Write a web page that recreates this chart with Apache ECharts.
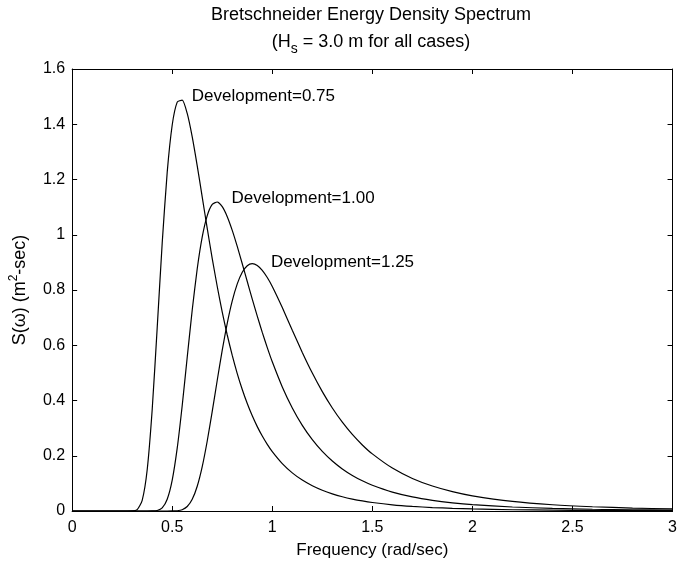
<!DOCTYPE html>
<html>
<head>
<meta charset="utf-8">
<script src="https://cdn.jsdelivr.net/npm/echarts@6/dist/echarts.min.js"></script>
<style>
html,body{margin:0;padding:0;background:#ffffff;}
#chart{width:680px;height:567px;}
</style>
</head>
<body>
<div id="chart"></div>
<script>
// ---- data ----
const frequency = [0, 0.1, 0.2, 0.25, 0.275,
  0.30, 0.325, 0.35, 0.375, 0.40, 0.425, 0.45, 0.475, 0.50, 0.525, 0.55, 0.575, 0.60, 0.625, 0.65, 0.675,
  0.70, 0.725, 0.75, 0.775, 0.80, 0.825, 0.85, 0.875, 0.90, 0.925, 0.95, 0.975, 1.00,
  1.05, 1.10, 1.15, 1.20, 1.25, 1.30, 1.35, 1.40, 1.45, 1.50,
  1.6, 1.7, 1.8, 1.9, 2.0, 2.2, 2.4, 2.6, 2.8, 3.0];

const dev075 = [0, 0, 0, 0, 0,
  0.0002, 0.0048, 0.0382, 0.1493, 0.3673, 0.6633, 0.9701, 1.2260, 1.3973, 1.4800, 1.4873, 1.4391, 1.3543, 1.2495, 1.1363, 1.0228,
  0.9139, 0.8127, 0.7202, 0.6371, 0.5630, 0.4974, 0.4397, 0.3889, 0.3444, 0.3054, 0.2713, 0.2413, 0.2150,
  0.1717, 0.1381, 0.1119, 0.0913, 0.0750, 0.0621, 0.0517, 0.0433, 0.0364, 0.0308,
  0.0224, 0.0166, 0.0125, 0.0096, 0.0074, 0.0046, 0.0030, 0.0020, 0.0014, 0.0010];

const dev100 = [0, 0, 0, 0, 0,
  0, 0, 0, 0, 0.0001, 0.0018, 0.0113, 0.0426, 0.1120, 0.2276, 0.3821, 0.5565, 0.7275, 0.8769, 0.9922, 1.0694,
  1.1100, 1.1186, 1.1016, 1.0654, 1.0158, 0.9577, 0.8951, 0.8308, 0.7671, 0.7054, 0.6466, 0.5915, 0.5402,
  0.4492, 0.3731, 0.3101, 0.2583, 0.2158, 0.1810, 0.1523, 0.1288, 0.1093, 0.0931,
  0.0685, 0.0511, 0.0387, 0.0297, 0.0231, 0.0145, 0.0094, 0.0063, 0.0044, 0.0031];

const dev125 = [0, 0, 0, 0, 0,
  0, 0, 0, 0, 0, 0, 0, 0, 0.0001, 0.0009, 0.0047, 0.0162, 0.0424, 0.0896, 0.1607, 0.2534,
  0.3606, 0.4734, 0.5820, 0.6796, 0.7604, 0.8221, 0.8643, 0.8880, 0.8953, 0.8889, 0.8713, 0.8451, 0.8126,
  0.7364, 0.6544, 0.5740, 0.4993, 0.4321, 0.3729, 0.3215, 0.2772, 0.2391, 0.2067,
  0.1553, 0.1178, 0.0903, 0.0700, 0.0548, 0.0346, 0.0226, 0.0153, 0.0106, 0.0075];

const seriesNames = ['Development=0.75', 'Development=1.00', 'Development=1.25'];
// text labels anchored in data units (frequency, S)
const labelAnchorX = [0.598, 0.796, 0.993];
const labelAnchorY = [1.502, 1.133, 0.901];

const xTickLabels = ['0', '0.5', '1', '1.5', '2', '2.5', '3'];
const yTickLabels = ['0', '0.2', '0.4', '0.6', '0.8', '1', '1.2', '1.4', '1.6'];

// ---- chart ----
const FONT = 'Liberation Sans, Arial, Helvetica, sans-serif';
const chart = echarts.init(document.getElementById('chart'), null, {renderer: 'canvas'});

const allValues = [dev075, dev100, dev125];
const series = allValues.map((vals, i) => ({
  name: seriesNames[i],
  type: 'line',
  xAxisIndex: 0,
  yAxisIndex: 0,
  data: frequency.map((f, k) => [f, vals[k]]),
  showSymbol: false,
  symbol: 'none',
  smooth: 0.2,
  lineStyle: {color: '#000', width: 1.2},
  animation: false,
  silent: true,
  markPoint: {
    symbol: 'circle',
    symbolSize: 0,
    silent: true,
    animation: false,
    data: [{coord: [labelAnchorX[i], labelAnchorY[i]], value: seriesNames[i]}],
    label: {
      show: true,
      position: 'right',
      distance: 0,
      formatter: seriesNames[i],
      color: '#000',
      fontSize: 17,
      fontFamily: FONT
    }
  }
}));

const axisCommon = {
  axisLine: {show: true, onZero: false, lineStyle: {color: '#000', width: 1}},
  axisTick: {show: true, inside: true, length: 5, lineStyle: {color: '#000', width: 1}},
  splitLine: {show: false}
};

const option = {
  backgroundColor: '#ffffff',
  animation: false,
  grid: {left: 70, right: 3, top: 69, bottom: 56, containLabel: false},
  xAxis: [
    Object.assign({
      type: 'value', position: 'bottom', min: 0, max: 3, interval: 0.5,
      name: 'Frequency (rad/sec)', nameLocation: 'middle', nameGap: 31,
      nameTextStyle: {color: '#000', fontSize: 17, fontFamily: FONT},
      axisLabel: {color: '#000', fontSize: 16, fontFamily: FONT, margin: 9,
        formatter: v => xTickLabels[Math.round(v / 0.5)]}
    }, axisCommon),
    Object.assign({
      type: 'value', position: 'top', min: 0, max: 3, interval: 0.5,
      axisLabel: {show: false}
    }, axisCommon)
  ],
  yAxis: [
    Object.assign({
      type: 'value', position: 'left', min: 0, max: 1.6, interval: 0.2,
      name: 'S(ω) (m{sup|2}-sec)', nameLocation: 'middle', nameGap: 36, nameRotate: 90,
      nameTextStyle: {color: '#000', fontSize: 18, fontFamily: FONT, lineHeight: 24,
        rich: {sup: {fontSize: 12, lineHeight: 12, verticalAlign: 'top', color: '#000', fontFamily: FONT}}},
      axisLabel: {color: '#000', fontSize: 16, fontFamily: FONT, margin: 7,
        formatter: v => yTickLabels[Math.round(v / 0.2)]}
    }, axisCommon),
    Object.assign({
      type: 'value', position: 'right', min: 0, max: 1.6, interval: 0.2,
      axisLabel: {show: false}
    }, axisCommon)
  ],
  graphic: [
    {
      type: 'text', x: 371, y: 15, silent: true,
      style: {text: 'Bretschneider Energy Density Spectrum', align: 'center', verticalAlign: 'middle',
        fill: '#000', fontSize: 18, fontFamily: FONT}
    },
    {
      type: 'text', x: 371, y: 42, silent: true,
      style: {text: '(H{sub|s} = 3.0 m for all cases)', align: 'center', verticalAlign: 'middle',
        fill: '#000', fontSize: 18, fontFamily: FONT, lineHeight: 28,
        rich: {sub: {fontSize: 14, lineHeight: 14, verticalAlign: 'bottom', fill: '#000', fontFamily: FONT}}}
    }
  ],
  series: series
};

chart.setOption(option);
</script>
</body>
</html>
